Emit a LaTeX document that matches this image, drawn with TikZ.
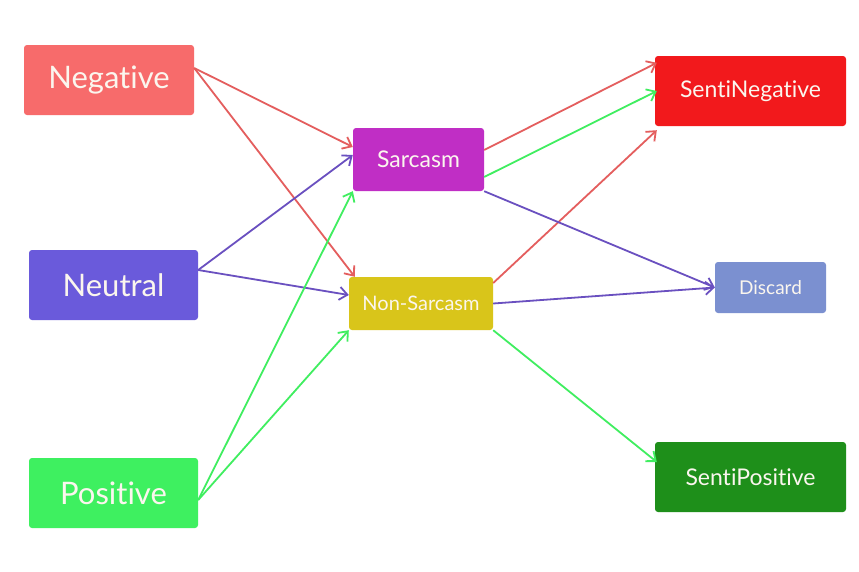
\documentclass[tikz,border=0pt]{standalone}
\usepackage{fontspec}
\setmainfont{Lato}[Ligatures={NoCommon,NoRare,NoContextual}]
\usetikzlibrary{arrows.meta}
\definecolor{cneg}{HTML}{F76B6B}
\definecolor{cneu}{HTML}{6A5ADB}
\definecolor{cpos}{HTML}{3EF060}
\definecolor{csar}{HTML}{C02EC5}
\definecolor{cnon}{HTML}{D9C51A}
\definecolor{csneg}{HTML}{F2191C}
\definecolor{cdis}{HTML}{7B90D0}
\definecolor{cspos}{HTML}{1E8F1A}
\definecolor{txt}{HTML}{FBF6EE}
\definecolor{ared}{HTML}{E45E5E}
\definecolor{apur}{HTML}{6A50C0}
\definecolor{agrn}{HTML}{40EE60}
\tikzset{
  box/.style={rounded corners=3pt, inner sep=0pt, text=txt, anchor=center},
  conn/.style={line width=1.8pt, -{Straight Barb[length=8pt,width=13pt,line width=1.8pt]}},
}
\begin{document}
\begin{tikzpicture}[x=1pt,y=-1pt]
\useasboundingbox[fill=white] (0,0) rectangle (859,571);
\node[box, fill=cneg, minimum width=170pt, minimum height=70pt, font=\fontsize{31}{33}\selectfont] (neg) at (109,80) {Negative};
\node[box, fill=cneu, minimum width=169pt, minimum height=70pt, font=\fontsize{31}{33}\selectfont] (neu) at (113.5,285) {Neutral};
\node[box, fill=cpos, minimum width=169pt, minimum height=70pt, font=\fontsize{31}{33}\selectfont] (pos) at (113.5,493) {Positive};
\node[box, fill=csar, minimum width=131pt, minimum height=63pt, font=\fontsize{23}{25}\selectfont] (sar) at (418.5,159.5) {Sarcasm};
\node[box, fill=cnon, minimum width=144pt, minimum height=53pt, font=\fontsize{20}{22}\selectfont] (non) at (421,303.5) {Non-Sarcasm};
\node[box, fill=csneg, minimum width=191pt, minimum height=70pt, font=\fontsize{23}{25}\selectfont] (sneg) at (750.5,91) {SentiNegative};
\node[box, fill=cdis, minimum width=111pt, minimum height=51pt, font=\fontsize{19}{21}\selectfont] (dis) at (770.5,287.5) {Discard};
\node[box, fill=cspos, minimum width=191pt, minimum height=70pt, font=\fontsize{23}{25}\selectfont] (spos) at (750.5,477) {SentiPositive};
% red
\draw[conn, ared] ([yshift=12pt]neg.east) -- ([yshift=12.5pt]sar.west);
\draw[conn, ared] ([yshift=12pt]neg.east) -- ([xshift=6pt]non.north west);
\draw[conn, ared] ([yshift=9.5pt]sar.east) -- ([xshift=2pt,yshift=-7pt]sneg.north west);
\draw[conn, ared] ([yshift=20.5pt]non.east) -- ([xshift=2pt,yshift=-4pt]sneg.south west);
% purple
\draw[conn, apur] ([yshift=15pt]neu.east) -- ([yshift=4.5pt]sar.west);
\draw[conn, apur] ([yshift=15pt]neu.east) -- ([yshift=8.5pt]non.west);
\draw[conn, apur] (sar.south east) -- (dis.west);
\draw[conn, apur] (non.east) -- (dis.west);
% green
\draw[conn, agrn] ([yshift=-7pt]pos.east) -- (sar.south west);
\draw[conn, agrn] ([yshift=-7pt]pos.east) -- (non.south west);
\draw[conn, agrn] ([yshift=-17.5pt]sar.east) -- ([xshift=2pt]sneg.west);
\draw[conn, agrn] (non.south east) -- ([xshift=2pt,yshift=15pt]spos.west);
\end{tikzpicture}
\end{document}
